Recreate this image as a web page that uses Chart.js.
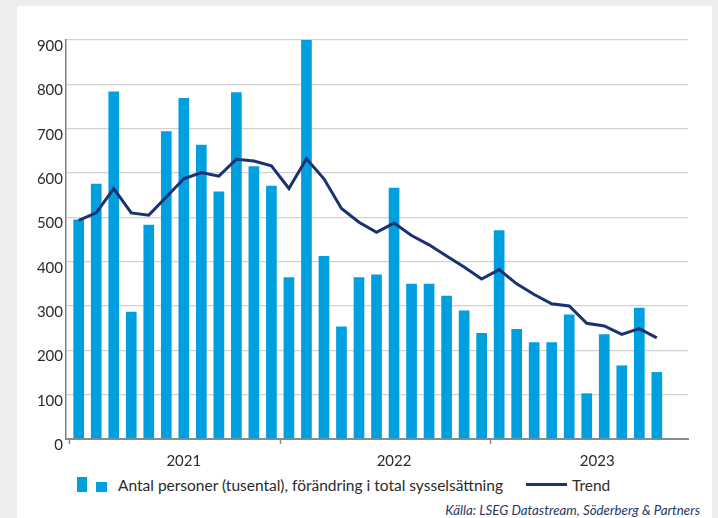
<!DOCTYPE html>
<html>
<head>
<meta charset="utf-8">
<script src="https://cdn.jsdelivr.net/npm/chart.js@4.4.0/dist/chart.umd.min.js"></script>
<style>
  body { margin: 0; width: 718px; height: 518px; overflow: hidden; position: relative; background: #eeeded; font-family: Lato, sans-serif; }
  #card { position: absolute; left: 17px; top: 6px; width: 695px; height: 520px; background: #fff; }
  #wrap { position: absolute; left: 0; top: 0; width: 718px; height: 470px; }
  .lg { position: absolute; }
  .txt { position: absolute; font-size: 15.5px; color: #2b2b2b; white-space: nowrap; }
  #source { position: absolute; right: 18px; top: 502px; font-size: 13.3px; font-style: italic; color: #1f3864; white-space: nowrap; }
</style>
</head>
<body>
<div id="card"></div>
<div id="wrap"><canvas id="jobs-plot"></canvas></div>

<div class="lg" style="left:77px;top:477px;width:10px;height:15px;background:#009fe0"></div>
<div class="lg" style="left:96px;top:482px;width:11px;height:10px;background:#009fe0"></div>
<div class="txt" style="left:118px;top:476px">Antal personer (tusental), förändring i total sysselsättning</div>
<div class="lg" style="left:526px;top:483px;width:41px;height:3px;background:#1b3270"></div>
<div class="txt" style="left:572px;top:476px">Trend</div>
<div id="source">Källa: LSEG Datastream, Söderberg &amp; Partners</div>

<script>
// monthly data, jan 2021 - okt 2023
const months = [
  'jan 2021','feb 2021','mar 2021','apr 2021','maj 2021','jun 2021','jul 2021','aug 2021','sep 2021','okt 2021','nov 2021','dec 2021',
  'jan 2022','feb 2022','mar 2022','apr 2022','maj 2022','jun 2022','jul 2022','aug 2022','sep 2022','okt 2022','nov 2022','dec 2022',
  'jan 2023','feb 2023','mar 2023','apr 2023','maj 2023','jun 2023','jul 2023','aug 2023','sep 2023','okt 2023'
];
const change = [495, 576, 784, 287, 483, 694, 769, 664, 558, 782, 615, 571,
                365, 900, 413, 254, 365, 371, 567, 350, 350, 323, 290, 239,
                471, 248, 218, 218, 281, 103, 236, 166, 296, 151];
const trend = [493, 510, 565, 510, 505, 546, 587, 601, 593, 631, 627, 616,
               565, 632, 587, 520, 489, 466, 487, 459, 438, 413, 388, 361,
               382, 350, 326, 305, 300, 261, 255, 236, 249, 228];
const years = ['2021', '2022', '2023'];
const yTicks = [0, 100, 200, 300, 400, 500, 600, 700, 800, 900];

// x axis is linear over month index so the bars line up with the year marks
const yearMarks = [-0.5, 11.5, 23.5];
const yearLabelAt = [6, 18, 29.6];

new Chart('jobs-plot', {
  type: 'bar',
  data: {
    labels: months,
    datasets: [{
      type: 'line',
      label: 'Trend',
      data: trend.map((v, i) => ({ x: i, y: v })),
      borderColor: '#1b3270',
      borderWidth: 3,
      pointRadius: 0,
      tension: 0
    },
    {
      label: 'Antal personer (tusental), förändring i total sysselsättning',
      data: change.map((v, i) => ({ x: i, y: v })),
      backgroundColor: '#009fe0',
      borderWidth: 0,
      categoryPercentage: 1,
      barPercentage: 0.61
    }]
  },
  options: {
    responsive: true,
    maintainAspectRatio: false,
    animation: false,
    layout: { padding: { left: 0, right: 30, top: 40, bottom: 0 } },
    plugins: {
      legend: { display: false },
      tooltip: { enabled: false }
    },
    scales: {
      x: {
        type: 'linear',
        min: -0.725,
        max: 34.78,
        offset: false,
        afterBuildTicks: (scale) => {
          scale.ticks = yearMarks.concat(yearLabelAt).sort((a, b) => a - b).map(v => ({ value: v }));
        },
        afterFit: (scale) => { scale.height = 31; },
        grid: {
          offset: false,
          drawOnChartArea: false,
          tickLength: 5,
          tickWidth: 1.5,
          tickColor: (ctx) => yearMarks.includes(ctx.tick && ctx.tick.value) ? '#8a8a8a' : 'rgba(0,0,0,0)'
        },
        border: { color: '#8a8a8a', width: 2 },
        ticks: {
          autoSkip: false,
          maxRotation: 0,
          padding: 8,
          color: '#2b2b2b',
          font: { family: 'Lato', size: 15 },
          callback: (v) => {
            const k = yearLabelAt.indexOf(v);
            return k >= 0 ? years[k] : '';
          }
        }
      },
      y: {
        min: 0,
        max: 900,
        afterBuildTicks: (scale) => { scale.ticks = yTicks.map(v => ({ value: v })); },
        afterFit: (scale) => { scale.width = 66; },
        grid: { color: '#d2d2d2', lineWidth: 1.3, drawTicks: false },
        border: { color: '#7f7f7f', width: 1.5 },
        ticks: {
          padding: 3,
          labelOffset: 6,
          color: '#2b2b2b',
          font: { family: 'Lato', size: 15 }
        }
      }
    }
  }
});
</script>
</body>
</html>
